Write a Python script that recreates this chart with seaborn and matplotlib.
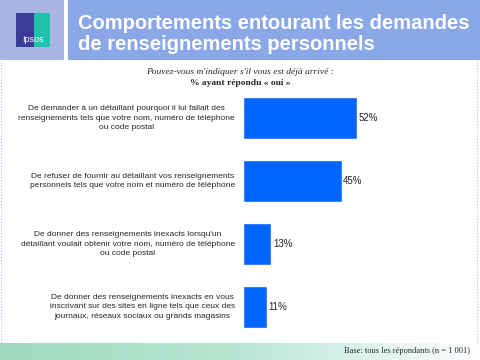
import numpy as np
import pandas as pd
import matplotlib.pyplot as plt
import matplotlib.patches as mpatches
import seaborn as sns

# Data
items = [
    "De demander à un détaillant pourquoi il lui fallait des\nrenseignements tels que votre nom, numéro de téléphone\nou code postal",
    "De refuser de fournir au détaillant vos renseignements\npersonnels tels que votre nom et numéro de téléphone",
    "De donner des renseignements inexacts lorsqu'un\ndétaillant voulait obtenir votre nom, numéro de téléphone\nou code postal",
    "De donner des renseignements inexacts en vous\ninscrivant sur des sites en ligne tels que ceux des\njournaux, réseaux sociaux ou grands magasins",
]
pct_yes = [52, 45, 13, 11]

title = "Comportements entourant les demandes\nde renseignements personnels"
question = "Pouvez-vous m'indiquer s'il vous est déjà arrivé :"
question_sub = "% ayant répondu « oui »"
base_note = "Base: tous les répondants (n = 1 001)"

sns.set_theme(style="white")
plt.rcParams["font.family"] = ["Liberation Sans", "DejaVu Sans"]

W, H = 480, 360
fig = plt.figure(figsize=(4.8, 3.6), dpi=100)
bg = fig.add_axes([0, 0, 1, 1])
bg.set_xlim(0, W)
bg.set_ylim(H, 0)
bg.axis("off")

# header bands
bg.add_patch(mpatches.Rectangle((0, 0), 64, 60, color="#a9b6e4", lw=0))
bg.add_patch(mpatches.Rectangle((68, 0), W - 68, 60, color="#8aa7e8", lw=0))
# logo
bg.add_patch(mpatches.Rectangle((16, 13), 18, 34, color="#3b3b9c", lw=0))
bg.add_patch(mpatches.Rectangle((34, 13), 16, 34, color="#1fc2ad", lw=0))
bg.text(33, 39, "Ipsos", color="white", fontsize=6.5, ha="center", va="center")
bg.text(78, 34, title, color="white", fontsize=14.5, fontweight="bold",
        ha="left", va="center", linespacing=1.12)

# bottom band, fading green to white
grad = np.linspace(0, 1, 256)[None, :]
cmap = sns.blend_palette(["#9fd9c2", "#b9e6d4", "#ffffff"], as_cmap=True)
bg.imshow(grad, cmap=cmap, extent=(0, W, 360, 343), aspect="auto", zorder=0)

# dotted frame sides
bg.plot([1, 1], [62, 343], color="#b8b8ee", lw=0.8, ls=":")
bg.plot([477, 477], [62, 343], color="#b8b8ee", lw=0.8, ls=":")

bg.text(240, 72, question, fontsize=6.8, style="italic", ha="center", va="center",
        family=["Liberation Serif", "DejaVu Serif"])
bg.text(240, 83, question_sub, fontsize=6.8, fontweight="bold", ha="center", va="center",
        family=["Liberation Serif", "DejaVu Serif"])
bg.text(470, 351, base_note, fontsize=6, ha="right", va="center",
        family=["Liberation Serif", "DejaVu Serif"])

# bar chart
df = pd.DataFrame({"item": items, "pct": pct_yes})
ax = fig.add_axes([243 / W, (H - 338.5) / H, 219 / W, 252 / H])
sns.barplot(data=df, x="pct", y="item", ax=ax, color="#0066ff", width=0.667,
            saturation=1, orient="h")
ax.set_xlim(0, 100)
ax.set_ylim(3.5, -0.5)
ax.axis("off")
for i, (lab, v) in enumerate(zip(items, pct_yes)):
    ax.text(v + 0.7, i, f"{v}%", fontsize=7, ha="left", va="center")
    ax.text(-3.6, i, lab, fontsize=6, ha="right", va="center",
            multialignment="center", linespacing=1.45)

fig.savefig("out.png", dpi=100)
